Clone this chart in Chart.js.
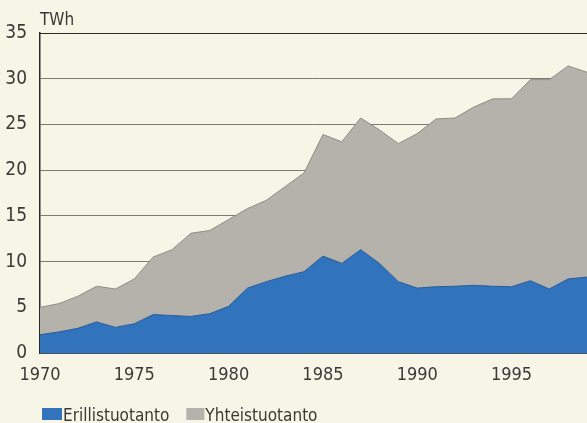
<!DOCTYPE html>
<html>
<head>
<meta charset="utf-8">
<script src="https://cdn.jsdelivr.net/npm/chart.js@4"></script>
<style>
  html, body { margin: 0; padding: 0; background: #f7f5e5; }
  #wrap { width: 587px; height: 423px; position: relative; }
</style>
</head>
<body>
<div id="wrap"><canvas id="chart"></canvas></div>
<script>
const years = [1970, 1971, 1972, 1973, 1974, 1975, 1976, 1977, 1978, 1979,
  1980, 1981, 1982, 1983, 1984, 1985, 1986, 1987, 1988, 1989,
  1990, 1991, 1992, 1993, 1994, 1995, 1996, 1997, 1998, 1999]
// Erillistuotanto (TWh)
const erillis = [2.0, 2.3, 2.7, 3.4, 2.8, 3.2, 4.2, 4.1, 4.0, 4.3,
  5.1, 7.1, 7.8, 8.4, 8.9, 10.6, 9.8, 11.3, 9.8, 7.8,
  7.1, 7.25, 7.3, 7.4, 7.3, 7.25, 7.9, 7.0, 8.1, 8.3]
// Yhteistuotanto (TWh), pinottuna erillistuotannon päälle
const yhteis = [3.0, 3.1, 3.5, 3.9, 4.2, 4.9, 6.3, 7.2, 9.1, 9.1,
  9.5, 8.7, 8.9, 9.8, 10.8, 13.3, 13.3, 14.4, 14.6, 15.1,
  16.9, 18.35, 18.4, 19.5, 20.5, 20.55, 22.0, 22.9, 23.3, 22.4]
const yTicks = [0, 5, 10, 15, 20, 25, 30, 35]
const xTicks = [1970, 1975, 1980, 1985, 1990, 1995]
const unit = 'TWh'

const FONT = "'Liberation Sans Narrow', 'DejaVu Sans Condensed', sans-serif"
const TXT = '#3a3a38'

const pts = arr => years.map((y, i) => ({ x: y, y: arr[i] }))

// TWh-otsikko, yläreunan viiva ja selite piirretään itse
const extras = {
  id: 'extras',
  afterDraw(chart) {
    const c = chart.ctx
    const a = chart.chartArea
    c.save()
    const top = Math.round(chart.scales.y.getPixelForValue(35)) + 0.5
    c.strokeStyle = '#2a2a28'
    c.lineWidth = 1.2
    c.beginPath()
    c.moveTo(a.left, top)
    c.lineTo(a.right, top)
    c.stroke()

    c.fillStyle = TXT
    c.font = '17px ' + FONT
    c.textBaseline = 'alphabetic'
    c.fillText(unit, 40, 25)

    let x = 42
    chart.data.datasets.forEach((d, i) => {
      const bw = i === 0 ? 20 : 18
      c.fillStyle = d.backgroundColor
      c.fillRect(x, 408, bw, 12)
      x += bw + 1
      c.fillStyle = TXT
      c.fillText(d.label, x, 421)
      x += c.measureText(d.label).width + 17
    })
    c.restore()
  }
}

new Chart(document.getElementById('chart'), {
  type: 'line',
  data: {
    datasets: [{
      label: 'Erillistuotanto',
      data: pts(erillis),
      backgroundColor: '#3173bd',
      borderColor: '#255a99',
      borderWidth: 1,
      fill: 'origin',
      pointRadius: 0,
      tension: 0
    }, {
      label: 'Yhteistuotanto',
      data: pts(yhteis),
      backgroundColor: '#b4b2ab',
      borderColor: '#8e8c86',
      borderWidth: 1,
      fill: '-1',
      pointRadius: 0,
      tension: 0
    }]
  },
  options: {
    responsive: true,
    maintainAspectRatio: false,
    animation: false,
    layout: { padding: { top: 33, right: 0, bottom: 40, left: 0 } },
    plugins: {
      legend: { display: false },
      tooltip: { enabled: false }
    },
    scales: {
      x: {
        type: 'linear',
        min: 1970,
        max: 1999,
        afterBuildTicks: s => { s.ticks = xTicks.map(v => ({ value: v })) },
        afterFit: s => { s.height = 30 },
        grid: { display: false, drawTicks: false },
        border: { display: true, color: '#1e2a3a', width: 1.5 },
        ticks: {
          padding: 12,
          maxRotation: 0,
          autoSkip: false,
          color: TXT,
          font: { family: FONT, size: 18 },
          callback: v => String(v)
        }
      },
      y: {
        stacked: true,
        min: 0,
        max: 35,
        afterBuildTicks: s => { s.ticks = yTicks.map(v => ({ value: v })) },
        afterFit: s => { s.width = 40 },
        grid: {
          drawTicks: false,
          lineWidth: 1,
          color: '#7b7a73'
        },
        border: { display: true, color: '#2a2a28', width: 1.5 },
        ticks: {
          padding: 13,
          color: TXT,
          font: { family: FONT, size: 19 }
        }
      }
    }
  },
  plugins: [extras]
})
</script>
</body>
</html>
